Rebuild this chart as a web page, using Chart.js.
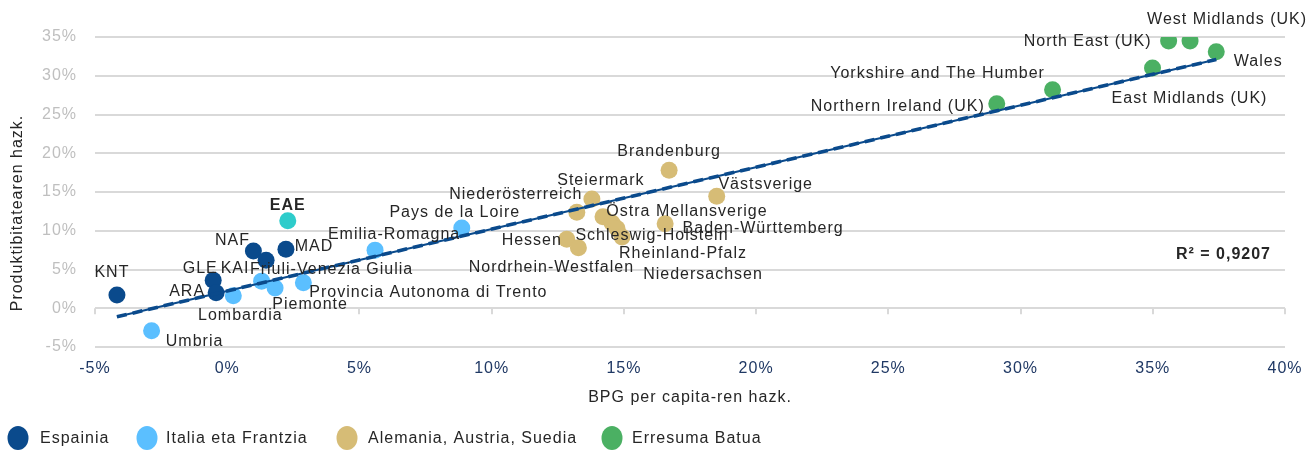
<!DOCTYPE html>
<html><head><meta charset="utf-8">
<script src="https://cdn.jsdelivr.net/npm/chart.js@4.4.1/dist/chart.umd.min.js"></script>
<style>html,body{margin:0;padding:0;background:#fff}canvas{display:block}</style>
</head><body>
<canvas id="c" width="1314" height="450"></canvas>
<script>
// ---------- DATA ----------
const espLabels = ['KNT', 'GLE', 'ARA', 'NAF', 'KAI', 'MAD'];
const espX = [-4.17, -0.53, -0.42, 0.99, 1.47, 2.22];
const espY = [1.7, 3.6, 2.0, 7.4, 6.2, 7.6];

const eaeLabels = ['EAE'];
const eaeX = [2.29];
const eaeY = [11.3];

const itaLabels = ['Umbria', 'Lombardia', 'Friuli-Venezia Giulia', 'Piemonte', 'Provincia Autonoma di Trento', 'Emilia-Romagna', 'Pays de la Loire'];
const itaX = [-2.86, 0.23, 1.30, 1.81, 2.88, 5.59, 8.87];
const itaY = [-2.9, 1.6, 3.5, 2.6, 3.3, 7.5, 10.35];

const gerLabels = ['Brandenburg', 'Steiermark', 'Niederösterreich', 'Västsverige', 'Östra Mellansverige', 'Schleswig-Holstein', 'Niedersachsen', 'Rheinland-Pfalz', 'Baden-Württemberg', 'Hessen', 'Nordrhein-Westfalen'];
const gerX = [16.71, 13.79, 13.22, 18.51, 14.21, 14.55, 14.74, 14.93, 16.56, 12.84, 13.28];
const gerY = [17.8, 14.1, 12.4, 14.45, 11.8, 11.0, 10.3, 9.2, 10.9, 8.9, 7.8];

const ukLabels = ['Northern Ireland (UK)', 'Yorkshire and The Humber', 'East Midlands (UK)', 'North East (UK)', 'West Midlands (UK)', 'Wales'];
const ukX = [29.10, 31.21, 34.99, 35.60, 36.41, 37.40];
const ukY = [26.4, 28.2, 31.0, 34.5, 34.5, 33.1];

const trendX = [-4.17, 37.4];
const trendY = [-1.1, 32.1];

const legendNames = ['Espainia', 'Italia eta Frantzia', 'Alemania, Austria, Suedia', 'Erresuma Batua'];
const xTicks = [-5, 0, 5, 10, 15, 20, 25, 30, 35, 40];
const yTicks = [-5, 0, 5, 10, 15, 20, 25, 30, 35];
const xTitle = 'BPG per capita-ren hazk.';
const yTitle = 'Produktibitatearen hazk.';
const r2Text = 'R² = 0,9207';

// ---------- STYLE ----------
const FONT = '"Liberation Sans", Arial, sans-serif';
const NAVY = '#0a4a8c';
const LBLUE = '#5bbfff';
const TAN = '#d6bc76';
const GREEN = '#4bb063';
const TEAL = '#2ecccb';
const TXT = '#262626';

// label centre offsets (px) relative to the point
const labelOffsets = {
  'KNT': [-5, -22], 'GLE': [-13, -12], 'ARA': [-29, -1], 'NAF': [-21, -10], 'KAI': [-31, 8], 'MAD': [28, -3],
  'EAE': [0, -15],
  'Umbria': [43, 11], 'Lombardia': [7, 20], 'Friuli-Venezia Giulia': [70, -12], 'Piemonte': [35, 16],
  'Provincia Autonoma di Trento': [125, 10], 'Emilia-Romagna': [19, -16], 'Pays de la Loire': [-7, -15],
  'Brandenburg': [0, -19], 'Steiermark': [9, -18], 'Niederösterreich': [-61, -18], 'Västsverige': [49, -12],
  'Östra Mellansverige': [84, -5], 'Schleswig-Holstein': [40, 13], 'Rheinland-Pfalz': [61, 17],
  'Niedersachsen': [86, 46], 'Baden-Württemberg': [98, 5], 'Hessen': [-35, 1], 'Nordrhein-Westfalen': [-27, 20],
  'Northern Ireland (UK)': [-99, 3], 'Yorkshire and The Humber': [-115, -16], 'East Midlands (UK)': [37, 31],
  'North East (UK)': [-81, 1], 'West Midlands (UK)': [37, -21], 'Wales': [42, 10]
};

const toPts = (xs, ys) => xs.map((x, i) => ({ x: x, y: ys[i] }));

function pointSet(label, xs, ys, names, color) {
  return {
    label: label, data: toPts(xs, ys), names: names,
    backgroundColor: color, borderColor: color, borderWidth: 0,
    pointRadius: 8.5, pointHoverRadius: 8.5, showLine: false
  };
}

const datasets = [
  { label: 'trendDash', type: 'line', data: toPts(trendX, trendY), borderColor: NAVY, borderWidth: 3.6,
    borderDash: [10, 6], pointRadius: 0, fill: false, order: -2 },
  { label: 'trend', type: 'line', data: toPts(trendX, trendY), borderColor: NAVY, borderWidth: 2.2,
    pointRadius: 0, fill: false, order: -1 },
  pointSet('EAE', eaeX, eaeY, eaeLabels, TEAL),
  pointSet('Espainia', espX, espY, espLabels, NAVY),
  pointSet('Italia eta Frantzia', itaX, itaY, itaLabels, LBLUE),
  pointSet('Alemania, Austria, Suedia', gerX, gerY, gerLabels, TAN),
  pointSet('Erresuma Batua', ukX, ukY, ukLabels, GREEN)
];

const legendColors = [NAVY, LBLUE, TAN, GREEN];
const legendCircleX = [18, 147, 347, 612];
const legendTextX = [40, 166, 368, 632];

const deco = {
  id: 'deco',
  beforeDraw(chart) {
    chart.ctx.letterSpacing = '1px';
  },
  beforeDatasetsDraw(chart) {
    const { ctx, scales: { x, y } } = chart;
    const y0 = y.getPixelForValue(0);
    ctx.save();
    ctx.strokeStyle = '#d9d9d9';
    ctx.lineWidth = 2;
    xTicks.forEach(v => {
      const px = Math.round(x.getPixelForValue(v));
      ctx.beginPath(); ctx.moveTo(px, y0); ctx.lineTo(px, y0 + 6); ctx.stroke();
    });
    ctx.restore();
  },
  afterDatasetsDraw(chart) {
    const { ctx, scales: { x, y }, chartArea } = chart;
    ctx.save();
    ctx.letterSpacing = '1px';
    ctx.textAlign = 'center';
    ctx.textBaseline = 'middle';
    ctx.fillStyle = TXT;
    chart.data.datasets.forEach(ds => {
      if (!ds.names) return;
      ds.data.forEach((p, i) => {
        const name = ds.names[i];
        const off = labelOffsets[name] || [0, -15];
        ctx.font = (name === 'EAE' ? 'bold ' : '') + '16px ' + FONT;
        ctx.fillText(name, x.getPixelForValue(p.x) + off[0], y.getPixelForValue(p.y) + off[1]);
      });
    });
    // R²
    ctx.font = 'bold 16px ' + FONT;
    ctx.textAlign = 'right';
    ctx.fillText(r2Text, chartArea.right - 14, y.getPixelForValue(6.9));
    // axis titles
    ctx.font = '16px ' + FONT;
    ctx.textAlign = 'center';
    ctx.fillText(xTitle, (chartArea.left + chartArea.right) / 2, 398);
    ctx.save();
    ctx.translate(18, 213);
    ctx.rotate(-Math.PI / 2);
    ctx.fillText(yTitle, 0, 0);
    ctx.restore();
    // legend
    ctx.textAlign = 'left';
    ctx.font = '16px ' + FONT;
    legendNames.forEach((n, i) => {
      ctx.fillStyle = legendColors[i];
      ctx.beginPath();
      ctx.ellipse(legendCircleX[i], 438, 10.5, 12, 0, 0, Math.PI * 2);
      ctx.fill();
      ctx.fillStyle = TXT;
      ctx.fillText(n, legendTextX[i], 439);
    });
    ctx.restore();
  }
};

Chart.defaults.font.family = FONT;

new Chart(document.getElementById('c'), {
  type: 'scatter',
  data: { datasets: datasets },
  options: {
    responsive: false,
    animation: false,
    events: [],
    layout: { padding: { left: 0, top: 37, right: 29, bottom: 0 } },
    plugins: { legend: { display: false }, tooltip: { enabled: false } },
    scales: {
      x: {
        type: 'linear', min: -5, max: 40,
        afterBuildTicks: s => { s.ticks = xTicks.map(v => ({ value: v })); },
        afterFit: s => { s.height = 103; },
        grid: { display: false, drawTicks: false },
        border: { display: false },
        ticks: { color: '#1f3864', font: { size: 16 }, padding: 12, callback: v => v + '%' }
      },
      y: {
        type: 'linear', min: -5, max: 35,
        afterBuildTicks: s => { s.ticks = yTicks.map(v => ({ value: v })); },
        afterFit: s => { s.width = 95; },
        grid: { color: '#d9d9d9', lineWidth: 2, drawTicks: false },
        border: { display: false },
        ticks: { color: '#bfbfbf', font: { size: 16 }, padding: 18, callback: v => v + '%' }
      }
    }
  },
  plugins: [deco]
});
</script>
</body></html>
